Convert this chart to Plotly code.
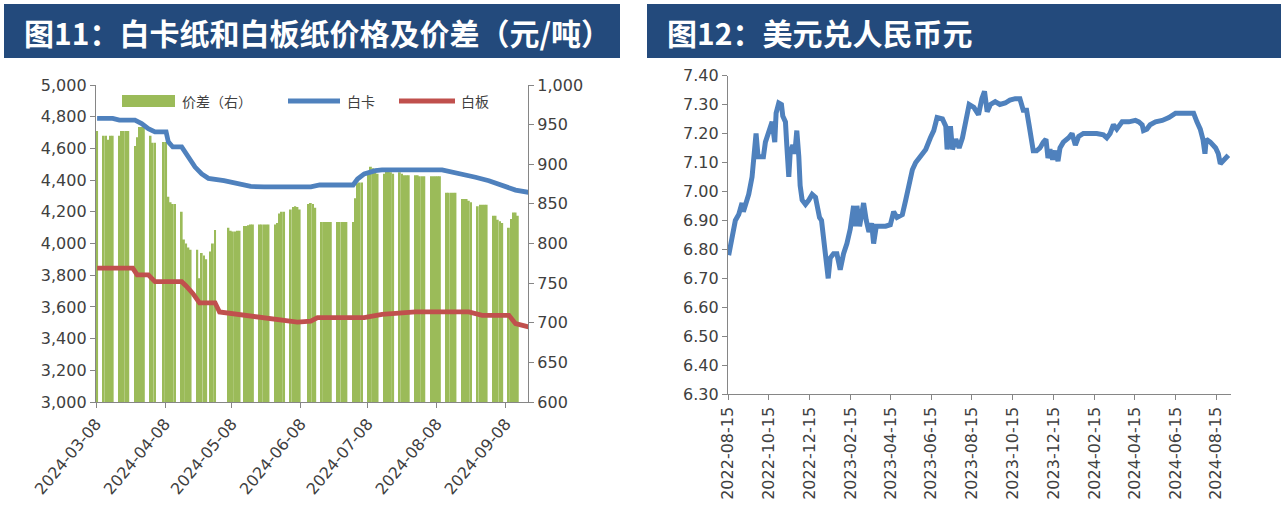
import plotly.graph_objects as go

W, H = 1285, 521

# ---------------- Left chart: 白卡 / 白板 prices and spread ----------------
spread_dates = [
    "2024-03-08",
    "2024-03-11", "2024-03-12", "2024-03-13", "2024-03-14", "2024-03-15",
    "2024-03-18", "2024-03-19", "2024-03-20", "2024-03-21", "2024-03-22",
    "2024-03-25", "2024-03-26", "2024-03-27", "2024-03-28", "2024-03-29",
    "2024-04-01", "2024-04-02", "2024-04-03", "2024-04-07",
    "2024-04-08", "2024-04-09", "2024-04-10", "2024-04-11", "2024-04-12",
    "2024-04-15", "2024-04-16", "2024-04-17", "2024-04-18", "2024-04-19",
    "2024-04-22", "2024-04-23", "2024-04-24", "2024-04-25", "2024-04-26", "2024-04-28",
    "2024-04-29", "2024-04-30",
    "2024-05-06", "2024-05-07", "2024-05-08", "2024-05-09", "2024-05-10", "2024-05-11",
    "2024-05-13", "2024-05-14", "2024-05-15", "2024-05-16", "2024-05-17",
    "2024-05-20", "2024-05-21", "2024-05-22", "2024-05-23", "2024-05-24",
    "2024-05-27", "2024-05-28", "2024-05-29", "2024-05-30", "2024-05-31",
    "2024-06-03", "2024-06-04", "2024-06-05", "2024-06-06", "2024-06-07",
    "2024-06-11", "2024-06-12", "2024-06-13", "2024-06-14",
    "2024-06-17", "2024-06-18", "2024-06-19", "2024-06-20", "2024-06-21",
    "2024-06-24", "2024-06-25", "2024-06-26", "2024-06-27", "2024-06-28",
    "2024-07-01", "2024-07-02", "2024-07-03", "2024-07-04", "2024-07-05",
    "2024-07-08", "2024-07-09", "2024-07-10", "2024-07-11", "2024-07-12",
    "2024-07-15", "2024-07-16", "2024-07-17", "2024-07-18", "2024-07-19",
    "2024-07-22", "2024-07-23", "2024-07-24", "2024-07-25", "2024-07-26",
    "2024-07-29", "2024-07-30", "2024-07-31", "2024-08-01", "2024-08-02",
    "2024-08-05", "2024-08-06", "2024-08-07", "2024-08-08", "2024-08-09",
    "2024-08-12", "2024-08-13", "2024-08-14", "2024-08-15", "2024-08-16",
    "2024-08-19", "2024-08-20", "2024-08-21", "2024-08-22", "2024-08-23",
    "2024-08-26", "2024-08-27", "2024-08-28", "2024-08-29", "2024-08-30",
    "2024-09-02", "2024-09-03", "2024-09-04", "2024-09-05", "2024-09-06",
    "2024-09-09", "2024-09-10", "2024-09-11", "2024-09-12", "2024-09-13",
]
spread_vals = [
    942,
    936, 936, 931, 936, 936,
    936, 942, 942, 942, 942,
    923, 934, 947, 947, 947,
    936, 927, 927, 928,
    928, 859, 852, 850, 850,
    840, 805, 800, 795, 792,
    792, 756, 788, 785, 780, 790,
    800, 817,
    820, 816, 815, 815, 816, 816,
    822, 822, 823, 824, 824,
    824, 824, 824, 824, 824,
    824, 826, 838, 840, 840,
    843, 846, 847, 846, 843,
    850, 851, 850, 845,
    827, 827, 827, 827, 827,
    827, 827, 827, 827, 827,
    827, 857, 876, 877, 877,
    890, 897, 895, 890, 888,
    888, 892, 892, 890, 888,
    890, 888, 886, 886, 886,
    886, 886, 885, 885, 885,
    885, 885, 885, 885, 885,
    864, 864, 864, 864, 864,
    856, 856, 856, 854, 852,
    847, 849, 849, 849, 849,
    835, 835, 830, 828, 826,
    820, 831, 839, 839, 835,
]

card_dates = [
    "2024-03-08", "2024-03-15", "2024-03-18", "2024-03-25", "2024-03-28", "2024-03-31",
    "2024-04-03", "2024-04-08", "2024-04-09", "2024-04-11", "2024-04-15", "2024-04-18",
    "2024-04-21", "2024-04-24", "2024-04-27", "2024-05-04", "2024-05-10", "2024-05-16",
    "2024-05-22", "2024-06-12", "2024-06-16", "2024-07-01", "2024-07-03", "2024-07-06",
    "2024-07-11", "2024-07-14", "2024-08-10", "2024-08-13", "2024-08-19", "2024-08-25",
    "2024-08-31", "2024-09-06", "2024-09-12", "2024-09-18",
]
card_vals = [
    4790, 4789, 4778, 4778, 4757, 4725,
    4704, 4704, 4641, 4609, 4609, 4545,
    4482, 4439, 4411, 4396, 4375, 4360,
    4357, 4357, 4369, 4369, 4407, 4439,
    4460, 4464, 4464, 4456, 4439, 4418,
    4396, 4369, 4337, 4322,
]

board_dates = [
    "2024-03-08", "2024-03-24", "2024-03-26", "2024-03-31", "2024-04-03", "2024-04-15",
    "2024-04-17", "2024-04-20", "2024-04-23", "2024-04-30", "2024-05-02", "2024-05-10",
    "2024-05-19", "2024-05-28", "2024-06-06", "2024-06-12", "2024-06-15", "2024-07-06",
    "2024-07-14", "2024-07-29", "2024-08-22", "2024-08-28", "2024-09-09", "2024-09-12",
    "2024-09-18",
]
board_vals = [
    3845, 3845, 3802, 3802, 3759, 3759,
    3732, 3685, 3626, 3626, 3568, 3553,
    3532, 3515, 3504, 3510, 3532, 3532,
    3553, 3568, 3568, 3547, 3547, 3494,
    3473,
]

left_ticks = ["2024-03-08", "2024-04-08", "2024-05-08", "2024-06-08",
              "2024-07-08", "2024-08-08", "2024-09-08"]

# ---------------- Right chart: USD/CNY ----------------
usd_dates = [
    "2022-08-16", "2022-08-21", "2022-08-26", "2022-08-31", "2022-09-05", "2022-09-07",
    "2022-09-10", "2022-09-15", "2022-09-20", "2022-09-22", "2022-09-26", "2022-09-29",
    "2022-10-02", "2022-10-07", "2022-10-10", "2022-10-15", "2022-10-20", "2022-10-24",
    "2022-10-26", "2022-10-30", "2022-11-03", "2022-11-05", "2022-11-09", "2022-11-11",
    "2022-11-14", "2022-11-16", "2022-11-20", "2022-11-23", "2022-11-26", "2022-11-29",
    "2022-12-01", "2022-12-04", "2022-12-09", "2022-12-14", "2022-12-19", "2022-12-24",
    "2022-12-26", "2022-12-30", "2023-01-02", "2023-01-05", "2023-01-09", "2023-01-12",
    "2023-01-15", "2023-01-20", "2023-01-25", "2023-01-30", "2023-02-04", "2023-02-09",
    "2023-02-14", "2023-02-19", "2023-02-22", "2023-02-24", "2023-02-28", "2023-03-06",
    "2023-03-10", "2023-03-14", "2023-03-18", "2023-03-21", "2023-03-25", "2023-03-31",
    "2023-04-08", "2023-04-15", "2023-04-20", "2023-04-25", "2023-05-03", "2023-05-08",
    "2023-05-13", "2023-05-18", "2023-05-23", "2023-05-30", "2023-06-07", "2023-06-14",
    "2023-06-19", "2023-06-24", "2023-07-02", "2023-07-07", "2023-07-09", "2023-07-14",
    "2023-07-17", "2023-07-22", "2023-07-27", "2023-08-01", "2023-08-06", "2023-08-11",
    "2023-08-18", "2023-08-25", "2023-08-30", "2023-09-03", "2023-09-07", "2023-09-12",
    "2023-09-19", "2023-09-26", "2023-10-04", "2023-10-11", "2023-10-19", "2023-10-26",
    "2023-10-31", "2023-11-05", "2023-11-09", "2023-11-13", "2023-11-15", "2023-11-20",
    "2023-11-25", "2023-11-30", "2023-12-04", "2023-12-07", "2023-12-10", "2023-12-14",
    "2023-12-18", "2023-12-22", "2023-12-25", "2023-12-30", "2024-01-07", "2024-01-12",
    "2024-01-17", "2024-01-22", "2024-01-29", "2024-02-08", "2024-02-18", "2024-02-28",
    "2024-03-04", "2024-03-09", "2024-03-14", "2024-03-19", "2024-03-27", "2024-04-06",
    "2024-04-16", "2024-04-21", "2024-04-26", "2024-04-28", "2024-05-03", "2024-05-08",
    "2024-05-16", "2024-05-26", "2024-06-05", "2024-06-15", "2024-06-25", "2024-07-05",
    "2024-07-12", "2024-07-17", "2024-07-22", "2024-07-26", "2024-07-29", "2024-07-31",
    "2024-08-06", "2024-08-14", "2024-08-18", "2024-08-21", "2024-08-26", "2024-09-02",
]
usd_vals = [
    6.78, 6.85, 6.90, 6.92, 6.96, 6.93,
    6.95, 6.99, 7.05, 7.12, 7.20, 7.12,
    7.12, 7.12, 7.17, 7.20, 7.24, 7.17,
    7.27, 7.305, 7.30, 7.26, 7.24, 7.16,
    7.05, 7.13, 7.16, 7.13, 7.21, 7.12,
    7.02, 6.97, 6.955, 6.97, 6.99, 6.98,
    6.95, 6.91, 6.90, 6.83, 6.77, 6.70,
    6.77, 6.785, 6.785, 6.73, 6.785, 6.82,
    6.87, 6.95, 6.88, 6.95, 6.88, 6.96,
    6.90, 6.86, 6.89, 6.82, 6.88, 6.88,
    6.88, 6.885, 6.93, 6.91, 6.92, 6.97,
    7.03, 7.075, 7.10, 7.12, 7.145, 7.185,
    7.21, 7.255, 7.25, 7.225, 7.145, 7.225,
    7.145, 7.18, 7.15, 7.185, 7.24, 7.30,
    7.29, 7.265, 7.32, 7.345, 7.275, 7.30,
    7.31, 7.30, 7.305, 7.315, 7.32, 7.32,
    7.28, 7.28, 7.225, 7.18, 7.14, 7.14,
    7.15, 7.17, 7.18, 7.115, 7.145, 7.11,
    7.14, 7.105, 7.15, 7.17, 7.185, 7.20,
    7.16, 7.19, 7.20, 7.20, 7.20, 7.195,
    7.185, 7.20, 7.23, 7.215, 7.24, 7.24,
    7.245, 7.24, 7.23, 7.21, 7.215, 7.23,
    7.24, 7.245, 7.255, 7.27, 7.27, 7.27,
    7.27, 7.24, 7.215, 7.18, 7.13, 7.18,
    7.17, 7.15, 7.13, 7.095, 7.11, 7.125,
]

right_ticks = ["2022-08-15", "2022-10-15", "2022-12-15", "2023-02-15", "2023-04-15",
               "2023-06-15", "2023-08-15", "2023-10-15", "2023-12-15", "2024-02-15",
               "2024-04-15", "2024-06-15", "2024-08-15"]

title_left = "图11：白卡纸和白板纸价格及价差（元/吨）"
title_right = "图12：美元兑人民币元"
legend_names = ["价差（右）", "白卡", "白板"]

# ---------------- Styling ----------------
GREEN = "#9BBB59"
BLUE = "#4F81BD"
RED = "#C0504D"
NAVY = "#234A7C"
AXIS = "#868686"
TXT = "#404040"
FONT = "DejaVu Sans"
DAY_MS = 86400000


def fx(p):
    return p / W


def fy(p):
    return 1 - p / H


fig = go.Figure()

fig.add_trace(go.Bar(
    x=spread_dates, y=spread_vals, name=legend_names[0],
    xperiod=DAY_MS, xperiodalignment="middle", width=DAY_MS * 0.85,
    marker=dict(color=GREEN, line=dict(width=0)),
    xaxis="x", yaxis="y",
))
fig.add_trace(go.Scatter(
    x=card_dates, y=card_vals, name=legend_names[1], mode="lines",
    xperiod=DAY_MS, xperiodalignment="middle",
    line=dict(color=BLUE, width=4.8),
    xaxis="x", yaxis="y2",
))
fig.add_trace(go.Scatter(
    x=board_dates, y=board_vals, name=legend_names[2], mode="lines",
    xperiod=DAY_MS, xperiodalignment="middle",
    line=dict(color=RED, width=4.8),
    xaxis="x", yaxis="y2",
))
fig.add_trace(go.Scatter(
    x=usd_dates, y=usd_vals, name="美元兑人民币", mode="lines",
    line=dict(color=BLUE, width=5),
    xaxis="x2", yaxis="y3",
))

axis_common = dict(
    showline=True, linecolor=AXIS, linewidth=1.3,
    ticks="outside", ticklen=5, tickwidth=1.3, tickcolor=AXIS,
    showgrid=False, zeroline=False, automargin=False,
    tickfont=dict(family=FONT, size=16, color=TXT),
)

# legend keys (drawn in paper space like the original's in-chart legend)
legend_shapes = [
    dict(type="rect", xref="paper", yref="paper", x0=fx(122), x1=fx(175),
         y0=fy(107), y1=fy(95), fillcolor=GREEN, line=dict(width=0)),
    dict(type="line", xref="paper", yref="paper", x0=fx(288), x1=fx(340),
         y0=fy(101), y1=fy(101), line=dict(color=BLUE, width=4.8)),
    dict(type="line", xref="paper", yref="paper", x0=fx(399), x1=fx(455),
         y0=fy(101), y1=fy(101), line=dict(color=RED, width=4.8)),
]
legend_text = [
    dict(text=legend_names[0], xref="paper", yref="paper", x=fx(180), y=fy(101),
         xanchor="left", yanchor="middle", showarrow=False,
         font=dict(family="Noto Sans CJK SC", size=14, color=TXT)),
    dict(text=legend_names[1], xref="paper", yref="paper", x=fx(345), y=fy(101),
         xanchor="left", yanchor="middle", showarrow=False,
         font=dict(family="Noto Sans CJK SC", size=14, color=TXT)),
    dict(text=legend_names[2], xref="paper", yref="paper", x=fx(459), y=fy(101),
         xanchor="left", yanchor="middle", showarrow=False,
         font=dict(family="Noto Sans CJK SC", size=14, color=TXT)),
]

fig.update_layout(
    width=W, height=H,
    margin=dict(l=0, r=0, t=0, b=0, autoexpand=False),
    paper_bgcolor="white", plot_bgcolor="white",
    barmode="overlay",
    showlegend=False,
    xaxis=dict(
        domain=[fx(96), fx(528)], anchor="y", type="date",
        range=["2024-03-08", "2024-09-18 02:00"],
        tickmode="array", tickvals=left_ticks, ticktext=left_ticks,
        tickangle=-50, **axis_common,
    ),
    yaxis=dict(
        domain=[fy(402), fy(85)], anchor="x", side="right",
        range=[600, 1000], dtick=50, tickformat=",d", **axis_common,
    ),
    yaxis2=dict(
        overlaying="y", anchor="x", side="left",
        range=[3000, 5000], dtick=200, tickformat=",d", **axis_common,
    ),
    xaxis2=dict(
        domain=[fx(728), fx(1231)], anchor="y3", type="date",
        range=["2022-08-15", "2024-09-06"],
        tickmode="array", tickvals=right_ticks, ticktext=right_ticks,
        tickangle=-90, **axis_common,
    ),
    yaxis3=dict(
        domain=[fy(394.3), fy(75.5)], anchor="x2",
        range=[6.30, 7.40], dtick=0.1, tickformat=".2f", **axis_common,
    ),
    shapes=[
        dict(type="rect", xref="paper", yref="paper", x0=fx(4), x1=fx(620),
             y0=fy(58), y1=fy(4), fillcolor=NAVY, line=dict(width=0), layer="below"),
        dict(type="rect", xref="paper", yref="paper", x0=fx(647), x1=fx(1281),
             y0=fy(58), y1=fy(4), fillcolor=NAVY, line=dict(width=0), layer="below"),
    ] + legend_shapes,
    annotations=[
        dict(text=title_left, xref="paper", yref="paper", x=fx(22), y=fy(32),
             xanchor="left", yanchor="middle", showarrow=False,
             font=dict(family="Noto Sans CJK SC", size=30, color="white", weight="bold")),
        dict(text=title_right, xref="paper", yref="paper", x=fx(665), y=fy(32),
             xanchor="left", yanchor="middle", showarrow=False,
             font=dict(family="Noto Sans CJK SC", size=30, color="white", weight="bold")),
    ] + legend_text,
)

fig.write_html("out.html")
